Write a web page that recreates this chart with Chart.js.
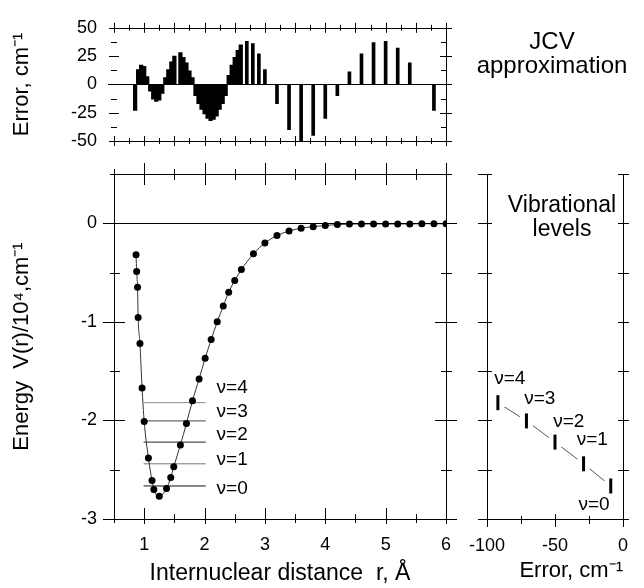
<!DOCTYPE html>
<html>
<head>
<meta charset="utf-8">
<script src="https://cdn.jsdelivr.net/npm/chart.js@4.4.1/dist/chart.umd.min.js"></script>
<style>
  html, body { margin: 0; padding: 0; background: #fff; }
  #wrap { position: relative; width: 644px; height: 588px; }
  #wrap canvas { position: absolute; left: 0; top: 0; }
</style>
</head>
<body>
<div id="wrap">
  <canvas id="errChart" width="644" height="588"></canvas>
  <canvas id="potChart" width="644" height="588"></canvas>
  <canvas id="levChart" width="644" height="588"></canvas>
</div>
<script>
// ===== DATA =====
// potential curve: r in Å, V(r) in 10^4 cm-1
const potR = [0.865, 0.875, 0.89, 0.90, 0.93, 0.965, 1.00, 1.07, 1.13, 1.16, 1.25, 1.37, 1.44, 1.49,
  1.60, 1.70, 1.80, 1.91, 2.01, 2.11, 2.21, 2.31, 2.40, 2.50, 2.61, 2.81, 3.00, 3.20, 3.40, 3.60,
  3.80, 4.00, 4.20, 4.40, 4.60, 4.80, 5.00, 5.20, 5.40, 5.60, 5.80, 6.00];
const potE = [-0.32, -0.49, -0.65, -0.955, -1.22, -1.67, -2.01, -2.38, -2.61, -2.70, -2.77, -2.69, -2.58, -2.47,
  -2.25, -2.03, -1.80, -1.58, -1.37, -1.18, -1.00, -0.84, -0.70, -0.58, -0.47, -0.31, -0.20, -0.125, -0.078, -0.05,
  -0.034, -0.022, -0.013, -0.008, -0.007, -0.007, -0.007, -0.007, -0.007, -0.004, -0.005, -0.005];

// JCV approximation error, cm-1
const errR = [0.85, 0.90, 0.95, 1.00, 1.05, 1.10, 1.15, 1.20, 1.25, 1.30, 1.35, 1.40, 1.45, 1.50,
  1.60, 1.65, 1.70, 1.75, 1.80, 1.85, 1.90, 1.95, 2.00, 2.05, 2.10, 2.15, 2.20, 2.25, 2.30, 2.35,
  2.40, 2.45, 2.50, 2.55, 2.60, 2.70, 2.80, 2.90, 3.00, 3.20, 3.40, 3.60, 3.80, 4.00, 4.20, 4.40,
  4.60, 4.80, 5.00, 5.20, 5.40, 5.60, 5.80];
const errVal = [-23, 13, 17, 16, 7, -6, -13, -15, -14, -8, 6, 13, 20, 25,
  28, 24, 19, 12, 6, -10, -17, -22, -26, -30, -32, -31, -28, -22, -17, -10,
  8, 17, 24, 30, 35, 38, 36, 27, 13, -17, -40, -50, -45, -30, -10, 11,
  27, 37, 38, 32, 19, 0, -23];

// vibrational levels v=0..4
const levelNames = ["ν=0", "ν=1", "ν=2", "ν=3", "ν=4"];
const levelE = [-2.665, -2.44, -2.22, -2.005, -1.82];
const levelErr = [-9, -29, -50, -71, -92];
const levelSpan = [0.99, 2.02];

// tick labels
const rTicks = [1, 2, 3, 4, 5, 6];
const energyTicks = [-3, -2, -1, 0];
const errTicks = [-50, -25, 0, 25, 50];
const levErrTicks = [-100, -50, 0];

// label anchors (data coords)
const levLabelR = 2.2;
const levLabelE = [-2.69, -2.40, -2.15, -1.917, -1.673];
const sideLabelX = [-32.7, -34, -51.3, -72.7, -94.7];
const sideLabelE = [-2.86, -2.20, -2.01, -1.785, -1.58];

// ===== HELPERS =====
const FONT = "'Liberation Sans', Arial, sans-serif";
Chart.defaults.font.family = FONT;
Chart.defaults.color = "#000";

function range(from, to, step) {
  const out = [];
  for (let i = 0; from + i * step <= to + 1e-9; i++) out.push(+(from + i * step).toFixed(4));
  return out;
}

function hLine(ctx, y, x1, x2) {
  y = Math.round(y) + 0.5;
  ctx.beginPath(); ctx.moveTo(x1, y); ctx.lineTo(x2, y); ctx.stroke();
}

function vLine(ctx, x, y1, y2) {
  x = Math.round(x) + 0.5;
  ctx.beginPath(); ctx.moveTo(x, y1); ctx.lineTo(x, y2); ctx.stroke();
}

function xTicks(ctx, scale, values, y, up, down) {
  values.forEach(v => vLine(ctx, scale.getPixelForValue(v), y - up, y + down));
}

function yTicks(ctx, scale, values, x, left, right) {
  values.forEach(v => hLine(ctx, scale.getPixelForValue(v), x - left, x + right));
}

function label(ctx, text, x, y, size, align) {
  ctx.font = size + "px " + FONT;
  ctx.textAlign = align || "left";
  ctx.textBaseline = "middle";
  ctx.fillText(text, x, y);
}

function decor(draw) {
  return {
    id: "decor",
    afterDatasetsDraw(chart) {
      const ctx = chart.ctx;
      ctx.save();
      ctx.strokeStyle = "#000";
      ctx.fillStyle = "#000";
      ctx.lineWidth = 1;
      draw(chart, ctx, chart.chartArea, chart.scales.x, chart.scales.y);
      ctx.restore();
    }
  };
}

function only(list) {
  return v => list.some(t => Math.abs(t - v) < 1e-6) ? String(Math.round(v)) : "";
}

const common = {
  responsive: false,
  animation: false,
  events: [],
  plugins: { legend: { display: false }, tooltip: { enabled: false } }
};

// ===== ERROR PANEL =====
// bars closer than 0.1 Å merge into a solid area, so they get a bit of overlap
const errPoints = errR.map((x, i) => ({ x, y: errVal[i] }));

new Chart(document.getElementById("errChart"), {
  type: "bar",
  data: {
    datasets: [
      { data: errPoints.filter(p => p.x < 2.65), backgroundColor: "#000", borderWidth: 0, barThickness: 3.6, grouped: false },
      { data: errPoints.filter(p => p.x >= 2.65), backgroundColor: "#000", borderWidth: 0, barThickness: 3, grouped: false }
    ]
  },
  options: {
    ...common,
    layout: { padding: { left: 0, right: 198, top: 23, bottom: 447 } },
    scales: {
      x: { type: "linear", min: 0.5, max: 6, offset: false, display: false },
      y: {
        min: -50, max: 50,
        afterFit: s => { s.width = 114; },
        grid: { display: false, drawTicks: false },
        border: { display: false },
        ticks: { stepSize: 25, padding: 17, font: { size: 18 }, callback: only(errTicks) },
        title: { display: true, text: "Error, cm⁻¹", font: { size: 22 }, padding: { top: 9, bottom: 0 } }
      }
    }
  },
  plugins: [decor((chart, ctx, a, xs, ys) => {
    hLine(ctx, a.top, a.left, a.right);
    hLine(ctx, a.bottom, a.left, a.right);
    vLine(ctx, a.right, a.top, a.bottom);
    hLine(ctx, ys.getPixelForValue(0), a.left - 6, a.right + 6);
    [a.top, a.bottom].forEach(y => {
      xTicks(ctx, xs, range(0.5, 6, 0.5), y, 5, 5);
      xTicks(ctx, xs, range(0.75, 5.75, 0.5), y, 3, 3);
    });
    yTicks(ctx, ys, range(-50, 50, 25), a.left, 5, 5);
    yTicks(ctx, ys, range(-37.5, 37.5, 25), a.left, 3, 3);
    yTicks(ctx, ys, range(-50, 50, 25), a.right, 6, 6);
    yTicks(ctx, ys, range(-37.5, 37.5, 25), a.right, 5, 0);
    label(ctx, "JCV", 552, 42, 24, "center");
    label(ctx, "approximation", 552, 66, 24, "center");
  })]
});

// ===== POTENTIAL PANEL =====
const levelColors = ["#111", "#777", "#222", "#444", "#888"];

new Chart(document.getElementById("potChart"), {
  type: "line",
  data: {
    datasets: [{
      data: potR.map((x, i) => ({ x, y: potE[i] })),
      borderColor: "#333",
      borderWidth: 1,
      pointRadius: 3.5,
      pointBackgroundColor: "#000",
      pointBorderWidth: 0,
      cubicInterpolationMode: "monotone"
    }].concat(levelE.map((e, i) => ({
      data: [{ x: levelSpan[0], y: e }, { x: levelSpan[1], y: e }],
      borderColor: levelColors[i],
      borderWidth: 1,
      pointRadius: 0
    })))
  },
  options: {
    ...common,
    layout: { padding: { left: 0, right: 198, top: 174, bottom: 0 } },
    scales: {
      x: {
        type: "linear", min: 0.5, max: 6,
        afterFit: s => { s.height = 69; },
        grid: { display: false, drawTicks: false },
        border: { display: false },
        ticks: { stepSize: 0.5, autoSkip: false, maxRotation: 0, padding: 15, font: { size: 18 }, callback: only(rTicks) },
        title: { display: true, text: "Internuclear distance  r, Å", font: { size: 23 }, padding: { top: 0, bottom: 1 } }
      },
      y: {
        min: -3, max: 0.5,
        afterFit: s => { s.width = 114; },
        grid: { display: false, drawTicks: false },
        border: { display: false },
        ticks: { stepSize: 0.5, autoSkip: false, padding: 17, font: { size: 18 }, callback: only(energyTicks) },
        title: { display: true, text: "Energy  V(r)/10⁴,cm⁻¹", font: { size: 22 }, padding: { top: 9, bottom: 0 } }
      }
    }
  },
  plugins: [decor((chart, ctx, a, xs, ys) => {
    vLine(ctx, a.left, a.top, a.bottom);
    vLine(ctx, a.right, a.top, a.bottom);
    hLine(ctx, a.top, a.left, a.right);
    hLine(ctx, a.bottom, a.left, a.right);
    hLine(ctx, ys.getPixelForValue(0), a.left - 11, a.right + 11);
    xTicks(ctx, xs, range(1, 6, 1), a.top, 11, 11);
    xTicks(ctx, xs, range(0.5, 5.5, 1), a.top, 5, 6);
    xTicks(ctx, xs, range(1, 6, 1), a.bottom, 11, 5);
    xTicks(ctx, xs, range(0.5, 5.5, 1), a.bottom, 5, 4);
    yTicks(ctx, ys, range(-3, 0, 1), a.left, 11, 11);
    yTicks(ctx, ys, range(-2.5, 0.5, 1), a.left, 4, 6);
    yTicks(ctx, ys, range(-3, 0, 1), a.right, 11, 11);
    yTicks(ctx, ys, range(-2.5, 0.5, 1), a.right, 5, 6);
    levelNames.forEach((t, i) =>
      label(ctx, t, xs.getPixelForValue(levLabelR), ys.getPixelForValue(levLabelE[i]), 19));
  })]
});

// ===== LEVELS PANEL =====
const levPoints = levelErr.map((x, i) => ({ x, y: levelE[i] }));

new Chart(document.getElementById("levChart"), {
  type: "line",
  data: {
    datasets: [
      { data: levPoints, showLine: false, pointStyle: "line", rotation: 90, pointRadius: 7.5, borderWidth: 3, borderColor: "#000" },
      { data: levPoints, showLine: false, pointStyle: "circle", pointRadius: 8, pointBackgroundColor: "#fff", pointBorderWidth: 0 },
      { data: levPoints, borderColor: "#555", borderWidth: 1, pointRadius: 0 }
    ]
  },
  options: {
    ...common,
    layout: { padding: { left: 487, right: 7, top: 174, bottom: 0 } },
    scales: {
      x: {
        type: "linear", min: -100, max: 0,
        afterFit: s => { s.height = 69; },
        grid: { display: false, drawTicks: false },
        border: { display: false },
        ticks: { stepSize: 25, autoSkip: false, maxRotation: 0, padding: 16, font: { size: 18 }, callback: only(levErrTicks) },
        title: { display: true, text: "Error, cm⁻¹", align: "end", font: { size: 22 }, padding: { top: 0, bottom: 4 } }
      },
      y: { min: -3, max: 0.5, display: false }
    }
  },
  plugins: [decor((chart, ctx, a, xs, ys) => {
    vLine(ctx, a.left, a.top, a.bottom);
    vLine(ctx, a.right, a.top, a.bottom);
    hLine(ctx, a.bottom, a.left, a.right);
    yTicks(ctx, ys, range(-3, 0.5, 0.5), a.left, 9, 5);
    yTicks(ctx, ys, range(-3, 0.5, 0.5), a.right, 5, 6);
    xTicks(ctx, xs, range(-100, 0, 50), a.bottom, 5, 8);
    xTicks(ctx, xs, range(-75, -25, 50), a.bottom, 3, 5);
    label(ctx, "Vibrational", 562, 206, 23, "center");
    label(ctx, "levels", 562, 230, 23, "center");
    levelNames.forEach((t, i) =>
      label(ctx, t, xs.getPixelForValue(sideLabelX[i]), ys.getPixelForValue(sideLabelE[i]), 19));
  })]
});
</script>
</body>
</html>
